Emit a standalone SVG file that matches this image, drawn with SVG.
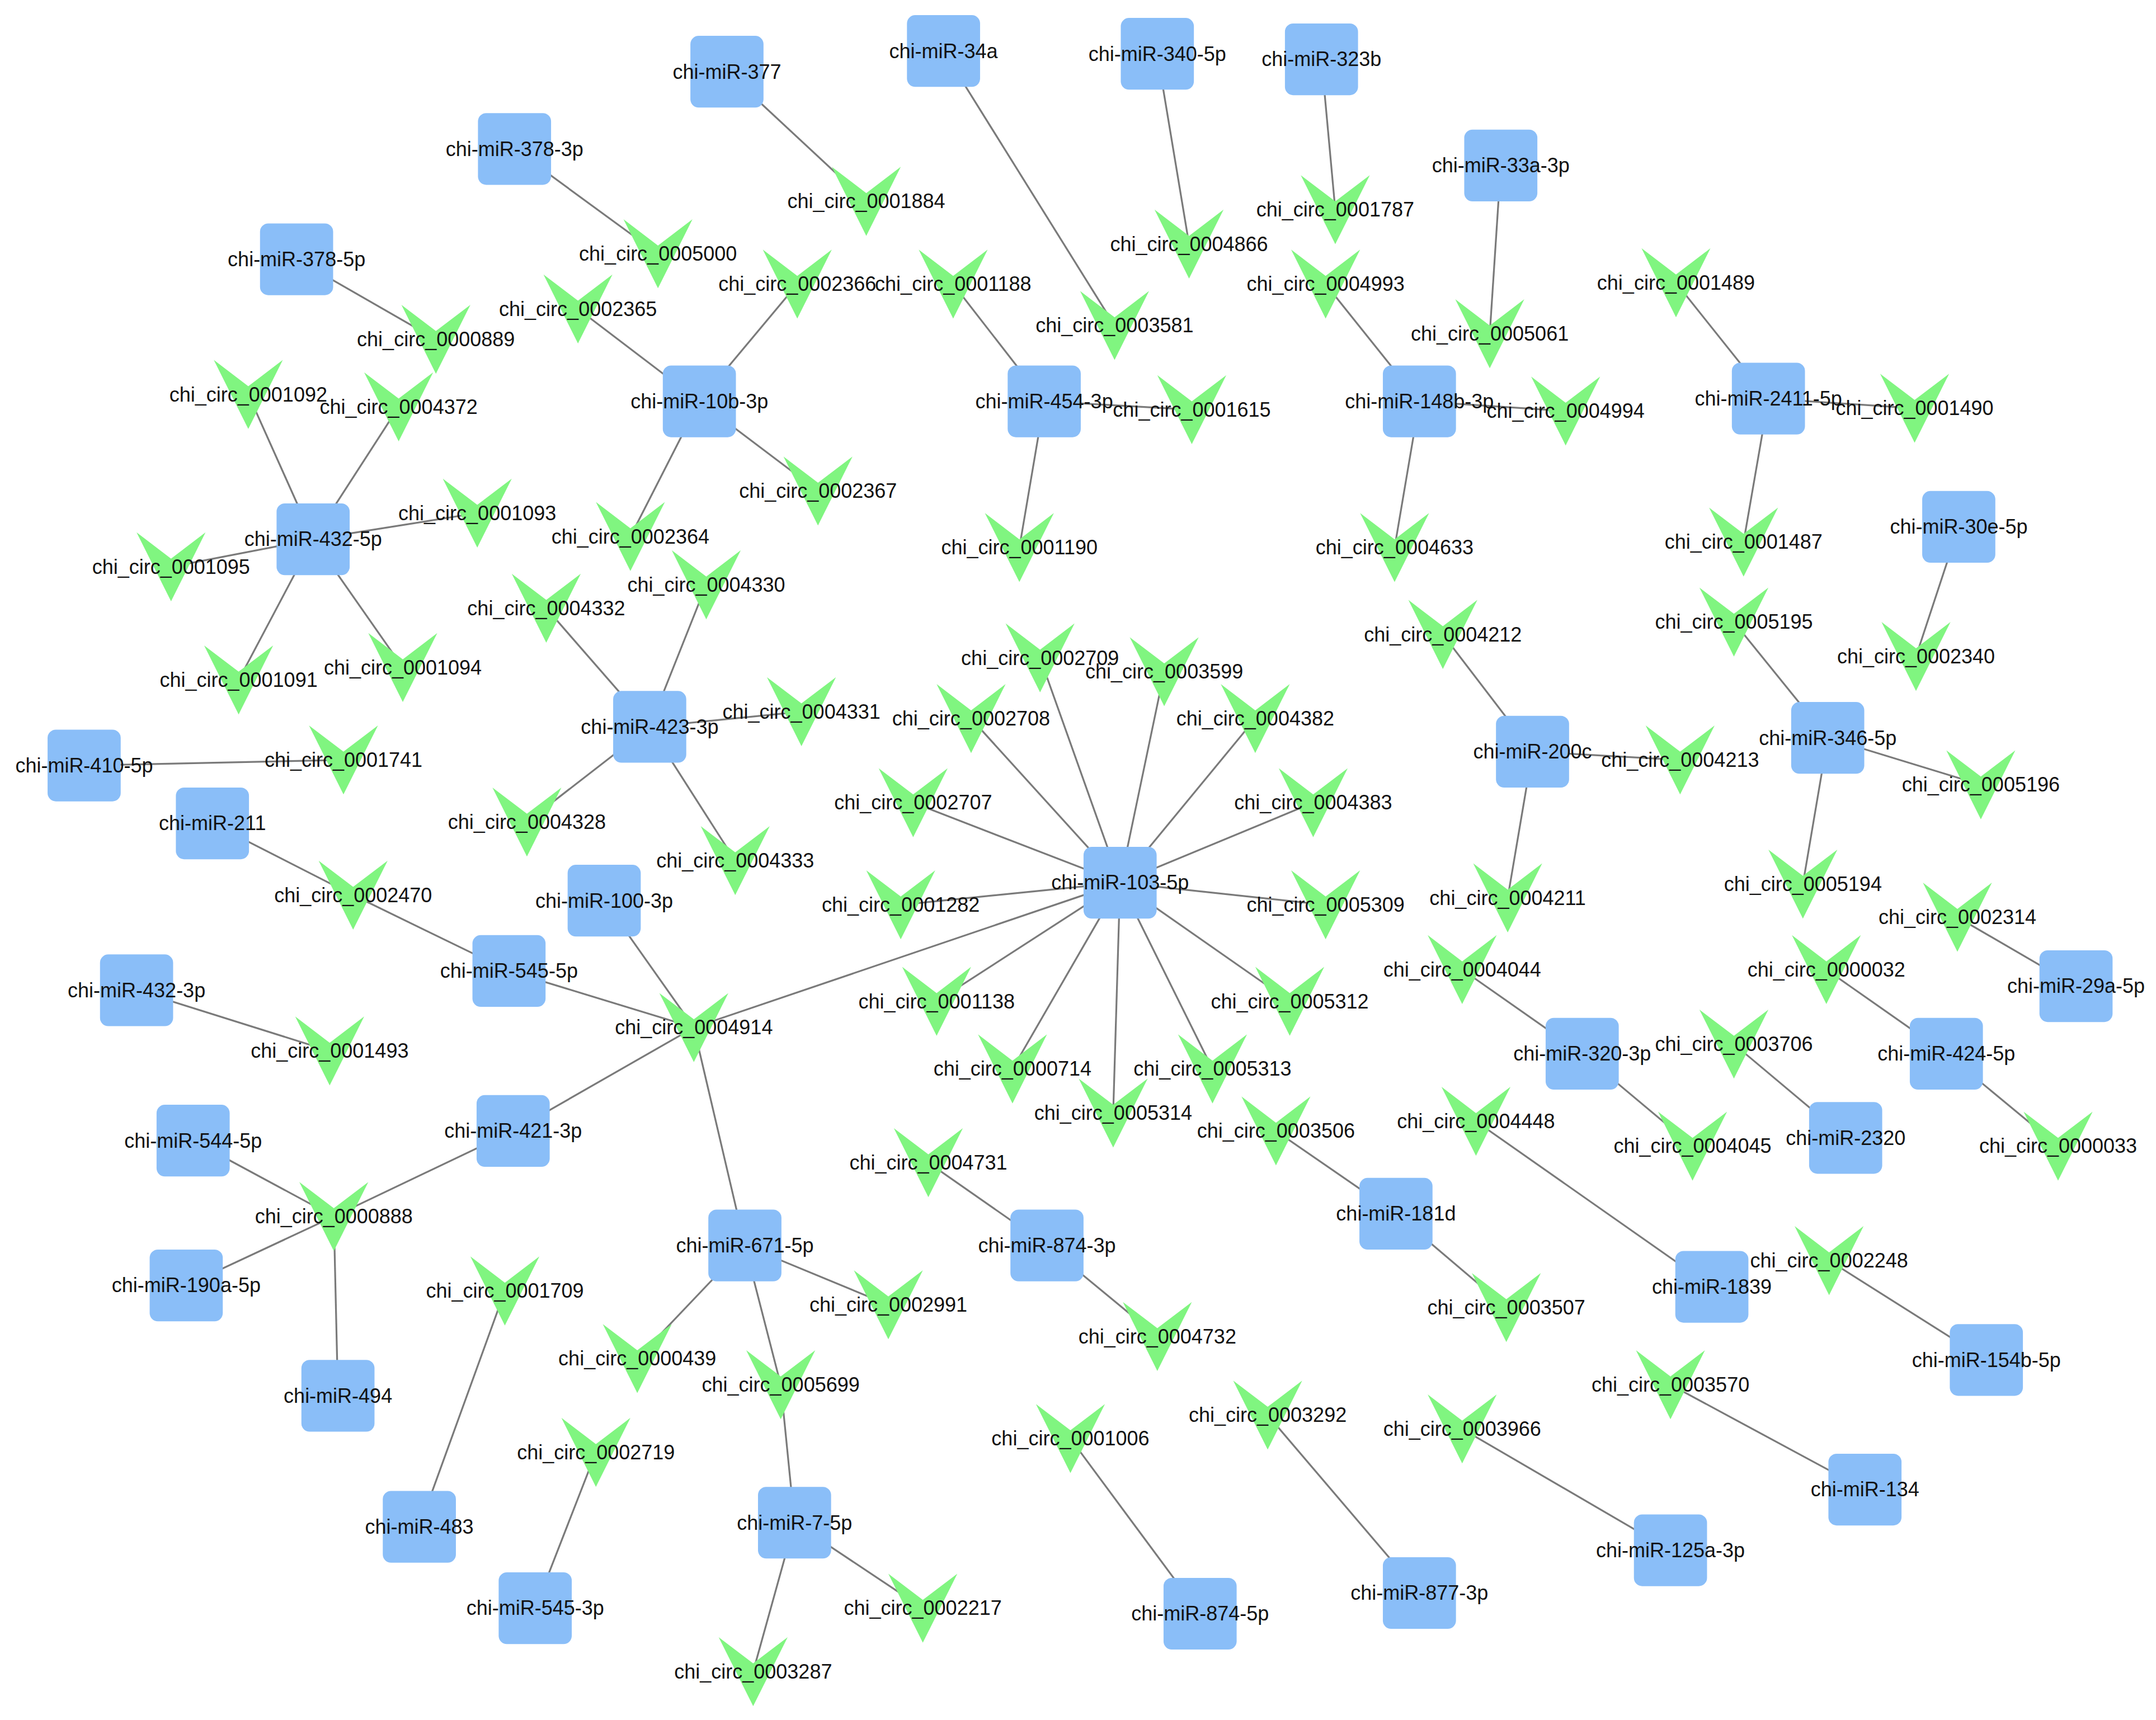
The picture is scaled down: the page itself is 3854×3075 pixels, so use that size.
<svg xmlns="http://www.w3.org/2000/svg" xmlns:xlink="http://www.w3.org/1999/xlink" width="3854" height="3075" viewBox="0 0 3854 3075">
<style>
.sq{fill:#8ABEF8}
.v{fill:#80F580}
#edges line{stroke:#7a7a7a;stroke-width:1.3;fill:none}
text{font-family:"Liberation Sans",Arial,sans-serif;font-size:14.6px;text-anchor:middle;fill:#111}
</style>
<defs>
<rect id="sq" class="sq" x="-26.5" y="-26" width="53" height="52" rx="6"/>
<polygon id="v" class="v" points="-25,-25 0,-6 25,-25 0,25"/>
</defs>
<rect width="3854" height="3075" fill="#ffffff"/>
<g transform="scale(2.4658)">
<g id="edges">
<line x1="527" y1="52" x2="628" y2="146"/>
<line x1="684" y1="37" x2="808" y2="236"/>
<line x1="839" y1="39" x2="862" y2="177"/>
<line x1="958" y1="43" x2="968" y2="152"/>
<line x1="373" y1="108" x2="477" y2="184"/>
<line x1="1088" y1="120" x2="1080" y2="242"/>
<line x1="215" y1="188" x2="316" y2="246"/>
<line x1="507" y1="291" x2="419" y2="224"/>
<line x1="507" y1="291" x2="578" y2="206"/>
<line x1="507" y1="291" x2="593" y2="356"/>
<line x1="507" y1="291" x2="457" y2="389"/>
<line x1="757" y1="291" x2="691" y2="206"/>
<line x1="757" y1="291" x2="864" y2="297"/>
<line x1="757" y1="291" x2="739" y2="397"/>
<line x1="1029" y1="291" x2="961" y2="206"/>
<line x1="1029" y1="291" x2="1135" y2="298"/>
<line x1="1029" y1="291" x2="1011" y2="397"/>
<line x1="1282" y1="289" x2="1215" y2="205"/>
<line x1="1282" y1="289" x2="1388" y2="296"/>
<line x1="1282" y1="289" x2="1264" y2="393"/>
<line x1="1420" y1="382" x2="1389" y2="476"/>
<line x1="227" y1="391" x2="180" y2="286"/>
<line x1="227" y1="391" x2="289" y2="295"/>
<line x1="227" y1="391" x2="346" y2="372"/>
<line x1="227" y1="391" x2="124" y2="411"/>
<line x1="227" y1="391" x2="173" y2="493"/>
<line x1="227" y1="391" x2="292" y2="484"/>
<line x1="471" y1="527" x2="396" y2="441"/>
<line x1="471" y1="527" x2="512" y2="424"/>
<line x1="471" y1="527" x2="581" y2="516"/>
<line x1="471" y1="527" x2="382" y2="596"/>
<line x1="471" y1="527" x2="533" y2="624"/>
<line x1="1111" y1="545" x2="1046" y2="460"/>
<line x1="1111" y1="545" x2="1218" y2="551"/>
<line x1="1111" y1="545" x2="1093" y2="651"/>
<line x1="1325" y1="535" x2="1257" y2="451"/>
<line x1="1325" y1="535" x2="1436" y2="569"/>
<line x1="1325" y1="535" x2="1307" y2="641"/>
<line x1="61" y1="555" x2="249" y2="551"/>
<line x1="154" y1="597" x2="256" y2="649"/>
<line x1="369" y1="704" x2="256" y2="649"/>
<line x1="369" y1="704" x2="503" y2="745"/>
<line x1="438" y1="653" x2="503" y2="745"/>
<line x1="812" y1="640" x2="754" y2="477"/>
<line x1="812" y1="640" x2="844" y2="487"/>
<line x1="812" y1="640" x2="704" y2="521"/>
<line x1="812" y1="640" x2="910" y2="521"/>
<line x1="812" y1="640" x2="662" y2="582"/>
<line x1="812" y1="640" x2="952" y2="582"/>
<line x1="812" y1="640" x2="653" y2="656"/>
<line x1="812" y1="640" x2="961" y2="656"/>
<line x1="812" y1="640" x2="679" y2="726"/>
<line x1="812" y1="640" x2="935" y2="726"/>
<line x1="812" y1="640" x2="734" y2="775"/>
<line x1="812" y1="640" x2="879" y2="775"/>
<line x1="812" y1="640" x2="807" y2="807"/>
<line x1="812" y1="640" x2="503" y2="745"/>
<line x1="372" y1="820" x2="503" y2="745"/>
<line x1="372" y1="820" x2="242" y2="882"/>
<line x1="540" y1="903" x2="503" y2="745"/>
<line x1="540" y1="903" x2="644" y2="946"/>
<line x1="540" y1="903" x2="462" y2="985"/>
<line x1="540" y1="903" x2="566" y2="1004"/>
<line x1="576" y1="1104" x2="566" y2="1004"/>
<line x1="576" y1="1104" x2="669" y2="1166"/>
<line x1="576" y1="1104" x2="546" y2="1212"/>
<line x1="388" y1="1166" x2="432" y2="1053"/>
<line x1="304" y1="1107" x2="366" y2="936"/>
<line x1="140" y1="827" x2="242" y2="882"/>
<line x1="135" y1="932" x2="242" y2="882"/>
<line x1="245" y1="1012" x2="242" y2="882"/>
<line x1="99" y1="718" x2="239" y2="762"/>
<line x1="759" y1="903" x2="673" y2="843"/>
<line x1="759" y1="903" x2="839" y2="969"/>
<line x1="870" y1="1170" x2="776" y2="1043"/>
<line x1="1029" y1="1155" x2="919" y2="1026"/>
<line x1="1012" y1="880" x2="925" y2="820"/>
<line x1="1012" y1="880" x2="1092" y2="948"/>
<line x1="1241" y1="933" x2="1070" y2="813"/>
<line x1="1440" y1="986" x2="1326" y2="914"/>
<line x1="1352" y1="1080" x2="1211" y2="1004"/>
<line x1="1211" y1="1124" x2="1060" y2="1036"/>
<line x1="1147" y1="764" x2="1060" y2="703"/>
<line x1="1147" y1="764" x2="1227" y2="831"/>
<line x1="1338" y1="825" x2="1257" y2="757"/>
<line x1="1411" y1="764" x2="1324" y2="703"/>
<line x1="1411" y1="764" x2="1492" y2="831"/>
<line x1="1505" y1="715" x2="1419" y2="665"/>
</g>
<g id="circ-nodes">
<g id="c0001884" transform="translate(628,146)"><use xlink:href="#v"/><text y="5">chi_circ_0001884</text></g>
<g id="c0005000" transform="translate(477,184)"><use xlink:href="#v"/><text y="5">chi_circ_0005000</text></g>
<g id="c0000889" transform="translate(316,246)"><use xlink:href="#v"/><text y="5">chi_circ_0000889</text></g>
<g id="c0002365" transform="translate(419,224)"><use xlink:href="#v"/><text y="5">chi_circ_0002365</text></g>
<g id="c0002366" transform="translate(578,206)"><use xlink:href="#v"/><text y="5">chi_circ_0002366</text></g>
<g id="c0001188" transform="translate(691,206)"><use xlink:href="#v"/><text y="5">chi_circ_0001188</text></g>
<g id="c0004866" transform="translate(862,177)"><use xlink:href="#v"/><text y="5">chi_circ_0004866</text></g>
<g id="c0001787" transform="translate(968,152)"><use xlink:href="#v"/><text y="5">chi_circ_0001787</text></g>
<g id="c0004993" transform="translate(961,206)"><use xlink:href="#v"/><text y="5">chi_circ_0004993</text></g>
<g id="c0005061" transform="translate(1080,242)"><use xlink:href="#v"/><text y="5">chi_circ_0005061</text></g>
<g id="c0001489" transform="translate(1215,205)"><use xlink:href="#v"/><text y="5">chi_circ_0001489</text></g>
<g id="c0003581" transform="translate(808,236)"><use xlink:href="#v"/><text y="5">chi_circ_0003581</text></g>
<g id="c0001092" transform="translate(180,286)"><use xlink:href="#v"/><text y="5">chi_circ_0001092</text></g>
<g id="c0004372" transform="translate(289,295)"><use xlink:href="#v"/><text y="5">chi_circ_0004372</text></g>
<g id="c0001615" transform="translate(864,297)"><use xlink:href="#v"/><text y="5">chi_circ_0001615</text></g>
<g id="c0004994" transform="translate(1135,298)"><use xlink:href="#v"/><text y="5">chi_circ_0004994</text></g>
<g id="c0001490" transform="translate(1388,296)"><use xlink:href="#v"/><text y="5">chi_circ_0001490</text></g>
<g id="c0002367" transform="translate(593,356)"><use xlink:href="#v"/><text y="5">chi_circ_0002367</text></g>
<g id="c0001093" transform="translate(346,372)"><use xlink:href="#v"/><text y="5">chi_circ_0001093</text></g>
<g id="c0002364" transform="translate(457,389)"><use xlink:href="#v"/><text y="5">chi_circ_0002364</text></g>
<g id="c0001095" transform="translate(124,411)"><use xlink:href="#v"/><text y="5">chi_circ_0001095</text></g>
<g id="c0001190" transform="translate(739,397)"><use xlink:href="#v"/><text y="5">chi_circ_0001190</text></g>
<g id="c0004633" transform="translate(1011,397)"><use xlink:href="#v"/><text y="5">chi_circ_0004633</text></g>
<g id="c0001487" transform="translate(1264,393)"><use xlink:href="#v"/><text y="5">chi_circ_0001487</text></g>
<g id="c0004330" transform="translate(512,424)"><use xlink:href="#v"/><text y="5">chi_circ_0004330</text></g>
<g id="c0004332" transform="translate(396,441)"><use xlink:href="#v"/><text y="5">chi_circ_0004332</text></g>
<g id="c0005195" transform="translate(1257,451)"><use xlink:href="#v"/><text y="5">chi_circ_0005195</text></g>
<g id="c0004212" transform="translate(1046,460)"><use xlink:href="#v"/><text y="5">chi_circ_0004212</text></g>
<g id="c0002340" transform="translate(1389,476)"><use xlink:href="#v"/><text y="5">chi_circ_0002340</text></g>
<g id="c0001091" transform="translate(173,493)"><use xlink:href="#v"/><text y="5">chi_circ_0001091</text></g>
<g id="c0001094" transform="translate(292,484)"><use xlink:href="#v"/><text y="5">chi_circ_0001094</text></g>
<g id="c0002709" transform="translate(754,477)"><use xlink:href="#v"/><text y="5">chi_circ_0002709</text></g>
<g id="c0003599" transform="translate(844,487)"><use xlink:href="#v"/><text y="5">chi_circ_0003599</text></g>
<g id="c0002708" transform="translate(704,521)"><use xlink:href="#v"/><text y="5">chi_circ_0002708</text></g>
<g id="c0004382" transform="translate(910,521)"><use xlink:href="#v"/><text y="5">chi_circ_0004382</text></g>
<g id="c0004331" transform="translate(581,516)"><use xlink:href="#v"/><text y="5">chi_circ_0004331</text></g>
<g id="c0004213" transform="translate(1218,551)"><use xlink:href="#v"/><text y="5">chi_circ_0004213</text></g>
<g id="c0001741" transform="translate(249,551)"><use xlink:href="#v"/><text y="5">chi_circ_0001741</text></g>
<g id="c0005196" transform="translate(1436,569)"><use xlink:href="#v"/><text y="5">chi_circ_0005196</text></g>
<g id="c0004328" transform="translate(382,596)"><use xlink:href="#v"/><text y="5">chi_circ_0004328</text></g>
<g id="c0002707" transform="translate(662,582)"><use xlink:href="#v"/><text y="5">chi_circ_0002707</text></g>
<g id="c0004383" transform="translate(952,582)"><use xlink:href="#v"/><text y="5">chi_circ_0004383</text></g>
<g id="c0004333" transform="translate(533,624)"><use xlink:href="#v"/><text y="5">chi_circ_0004333</text></g>
<g id="c0001282" transform="translate(653,656)"><use xlink:href="#v"/><text y="5">chi_circ_0001282</text></g>
<g id="c0005309" transform="translate(961,656)"><use xlink:href="#v"/><text y="5">chi_circ_0005309</text></g>
<g id="c0005194" transform="translate(1307,641)"><use xlink:href="#v"/><text y="5">chi_circ_0005194</text></g>
<g id="c0004211" transform="translate(1093,651)"><use xlink:href="#v"/><text y="5">chi_circ_0004211</text></g>
<g id="c0002314" transform="translate(1419,665)"><use xlink:href="#v"/><text y="5">chi_circ_0002314</text></g>
<g id="c0002470" transform="translate(256,649)"><use xlink:href="#v"/><text y="5">chi_circ_0002470</text></g>
<g id="c0004044" transform="translate(1060,703)"><use xlink:href="#v"/><text y="5">chi_circ_0004044</text></g>
<g id="c0000032" transform="translate(1324,703)"><use xlink:href="#v"/><text y="5">chi_circ_0000032</text></g>
<g id="c0004914" transform="translate(503,745)"><use xlink:href="#v"/><text y="5">chi_circ_0004914</text></g>
<g id="c0001138" transform="translate(679,726)"><use xlink:href="#v"/><text y="5">chi_circ_0001138</text></g>
<g id="c0005312" transform="translate(935,726)"><use xlink:href="#v"/><text y="5">chi_circ_0005312</text></g>
<g id="c0001493" transform="translate(239,762)"><use xlink:href="#v"/><text y="5">chi_circ_0001493</text></g>
<g id="c0003706" transform="translate(1257,757)"><use xlink:href="#v"/><text y="5">chi_circ_0003706</text></g>
<g id="c0000714" transform="translate(734,775)"><use xlink:href="#v"/><text y="5">chi_circ_0000714</text></g>
<g id="c0005313" transform="translate(879,775)"><use xlink:href="#v"/><text y="5">chi_circ_0005313</text></g>
<g id="c0005314" transform="translate(807,807)"><use xlink:href="#v"/><text y="5">chi_circ_0005314</text></g>
<g id="c0003506" transform="translate(925,820)"><use xlink:href="#v"/><text y="5">chi_circ_0003506</text></g>
<g id="c0004448" transform="translate(1070,813)"><use xlink:href="#v"/><text y="5">chi_circ_0004448</text></g>
<g id="c0004045" transform="translate(1227,831)"><use xlink:href="#v"/><text y="5">chi_circ_0004045</text></g>
<g id="c0000033" transform="translate(1492,831)"><use xlink:href="#v"/><text y="5">chi_circ_0000033</text></g>
<g id="c0004731" transform="translate(673,843)"><use xlink:href="#v"/><text y="5">chi_circ_0004731</text></g>
<g id="c0000888" transform="translate(242,882)"><use xlink:href="#v"/><text y="5">chi_circ_0000888</text></g>
<g id="c0002248" transform="translate(1326,914)"><use xlink:href="#v"/><text y="5">chi_circ_0002248</text></g>
<g id="c0001709" transform="translate(366,936)"><use xlink:href="#v"/><text y="5">chi_circ_0001709</text></g>
<g id="c0002991" transform="translate(644,946)"><use xlink:href="#v"/><text y="5">chi_circ_0002991</text></g>
<g id="c0003507" transform="translate(1092,948)"><use xlink:href="#v"/><text y="5">chi_circ_0003507</text></g>
<g id="c0004732" transform="translate(839,969)"><use xlink:href="#v"/><text y="5">chi_circ_0004732</text></g>
<g id="c0000439" transform="translate(462,985)"><use xlink:href="#v"/><text y="5">chi_circ_0000439</text></g>
<g id="c0005699" transform="translate(566,1004)"><use xlink:href="#v"/><text y="5">chi_circ_0005699</text></g>
<g id="c0003570" transform="translate(1211,1004)"><use xlink:href="#v"/><text y="5">chi_circ_0003570</text></g>
<g id="c0003292" transform="translate(919,1026)"><use xlink:href="#v"/><text y="5">chi_circ_0003292</text></g>
<g id="c0003966" transform="translate(1060,1036)"><use xlink:href="#v"/><text y="5">chi_circ_0003966</text></g>
<g id="c0001006" transform="translate(776,1043)"><use xlink:href="#v"/><text y="5">chi_circ_0001006</text></g>
<g id="c0002719" transform="translate(432,1053)"><use xlink:href="#v"/><text y="5">chi_circ_0002719</text></g>
<g id="c0002217" transform="translate(669,1166)"><use xlink:href="#v"/><text y="5">chi_circ_0002217</text></g>
<g id="c0003287" transform="translate(546,1212)"><use xlink:href="#v"/><text y="5">chi_circ_0003287</text></g>
</g>
<g id="mir-nodes">
<g id="m377" transform="translate(527,52)"><use xlink:href="#sq"/><text y="5">chi-miR-377</text></g>
<g id="m34a" transform="translate(684,37)"><use xlink:href="#sq"/><text y="5">chi-miR-34a</text></g>
<g id="m340-5p" transform="translate(839,39)"><use xlink:href="#sq"/><text y="5">chi-miR-340-5p</text></g>
<g id="m323b" transform="translate(958,43)"><use xlink:href="#sq"/><text y="5">chi-miR-323b</text></g>
<g id="m378-3p" transform="translate(373,108)"><use xlink:href="#sq"/><text y="5">chi-miR-378-3p</text></g>
<g id="m33a-3p" transform="translate(1088,120)"><use xlink:href="#sq"/><text y="5">chi-miR-33a-3p</text></g>
<g id="m378-5p" transform="translate(215,188)"><use xlink:href="#sq"/><text y="5">chi-miR-378-5p</text></g>
<g id="m10b-3p" transform="translate(507,291)"><use xlink:href="#sq"/><text y="5">chi-miR-10b-3p</text></g>
<g id="m454-3p" transform="translate(757,291)"><use xlink:href="#sq"/><text y="5">chi-miR-454-3p</text></g>
<g id="m148b-3p" transform="translate(1029,291)"><use xlink:href="#sq"/><text y="5">chi-miR-148b-3p</text></g>
<g id="m2411-5p" transform="translate(1282,289)"><use xlink:href="#sq"/><text y="5">chi-miR-2411-5p</text></g>
<g id="m30e-5p" transform="translate(1420,382)"><use xlink:href="#sq"/><text y="5">chi-miR-30e-5p</text></g>
<g id="m432-5p" transform="translate(227,391)"><use xlink:href="#sq"/><text y="5">chi-miR-432-5p</text></g>
<g id="m423-3p" transform="translate(471,527)"><use xlink:href="#sq"/><text y="5">chi-miR-423-3p</text></g>
<g id="m200c" transform="translate(1111,545)"><use xlink:href="#sq"/><text y="5">chi-miR-200c</text></g>
<g id="m346-5p" transform="translate(1325,535)"><use xlink:href="#sq"/><text y="5">chi-miR-346-5p</text></g>
<g id="m410-5p" transform="translate(61,555)"><use xlink:href="#sq"/><text y="5">chi-miR-410-5p</text></g>
<g id="m211" transform="translate(154,597)"><use xlink:href="#sq"/><text y="5">chi-miR-211</text></g>
<g id="m100-3p" transform="translate(438,653)"><use xlink:href="#sq"/><text y="5">chi-miR-100-3p</text></g>
<g id="m103-5p" transform="translate(812,640)"><use xlink:href="#sq"/><text y="5">chi-miR-103-5p</text></g>
<g id="m545-5p" transform="translate(369,704)"><use xlink:href="#sq"/><text y="5">chi-miR-545-5p</text></g>
<g id="m432-3p" transform="translate(99,718)"><use xlink:href="#sq"/><text y="5">chi-miR-432-3p</text></g>
<g id="m29a-5p" transform="translate(1505,715)"><use xlink:href="#sq"/><text y="5">chi-miR-29a-5p</text></g>
<g id="m424-5p" transform="translate(1411,764)"><use xlink:href="#sq"/><text y="5">chi-miR-424-5p</text></g>
<g id="m320-3p" transform="translate(1147,764)"><use xlink:href="#sq"/><text y="5">chi-miR-320-3p</text></g>
<g id="m2320" transform="translate(1338,825)"><use xlink:href="#sq"/><text y="5">chi-miR-2320</text></g>
<g id="m544-5p" transform="translate(140,827)"><use xlink:href="#sq"/><text y="5">chi-miR-544-5p</text></g>
<g id="m421-3p" transform="translate(372,820)"><use xlink:href="#sq"/><text y="5">chi-miR-421-3p</text></g>
<g id="m181d" transform="translate(1012,880)"><use xlink:href="#sq"/><text y="5">chi-miR-181d</text></g>
<g id="m874-3p" transform="translate(759,903)"><use xlink:href="#sq"/><text y="5">chi-miR-874-3p</text></g>
<g id="m671-5p" transform="translate(540,903)"><use xlink:href="#sq"/><text y="5">chi-miR-671-5p</text></g>
<g id="m1839" transform="translate(1241,933)"><use xlink:href="#sq"/><text y="5">chi-miR-1839</text></g>
<g id="m190a-5p" transform="translate(135,932)"><use xlink:href="#sq"/><text y="5">chi-miR-190a-5p</text></g>
<g id="m154b-5p" transform="translate(1440,986)"><use xlink:href="#sq"/><text y="5">chi-miR-154b-5p</text></g>
<g id="m494" transform="translate(245,1012)"><use xlink:href="#sq"/><text y="5">chi-miR-494</text></g>
<g id="m134" transform="translate(1352,1080)"><use xlink:href="#sq"/><text y="5">chi-miR-134</text></g>
<g id="m483" transform="translate(304,1107)"><use xlink:href="#sq"/><text y="5">chi-miR-483</text></g>
<g id="m7-5p" transform="translate(576,1104)"><use xlink:href="#sq"/><text y="5">chi-miR-7-5p</text></g>
<g id="m125a-3p" transform="translate(1211,1124)"><use xlink:href="#sq"/><text y="5">chi-miR-125a-3p</text></g>
<g id="m545-3p" transform="translate(388,1166)"><use xlink:href="#sq"/><text y="5">chi-miR-545-3p</text></g>
<g id="m877-3p" transform="translate(1029,1155)"><use xlink:href="#sq"/><text y="5">chi-miR-877-3p</text></g>
<g id="m874-5p" transform="translate(870,1170)"><use xlink:href="#sq"/><text y="5">chi-miR-874-5p</text></g>
</g>
</g>
</svg>
